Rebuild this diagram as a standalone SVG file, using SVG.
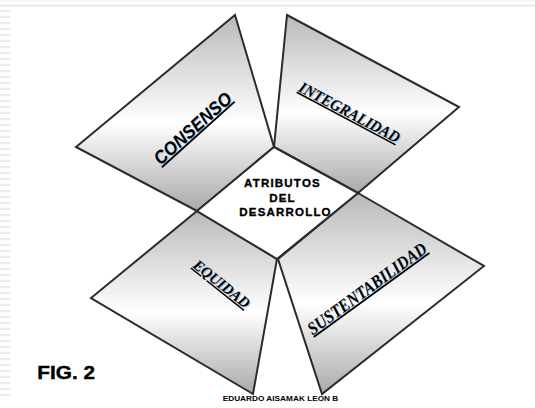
<svg xmlns="http://www.w3.org/2000/svg" width="535" height="408" viewBox="0 0 535 408">
  <style>
    .face { stroke: #2b2b2b; stroke-width: 2; stroke-linejoin: miter; fill: url(#shade); }
    .core { stroke: #2b2b2b; stroke-width: 2; fill: #ffffff; }
    .lbl { font-family: "Liberation Serif", "Times New Roman", serif; font-style: italic; font-weight: bold; fill: #000; text-decoration: underline; text-anchor: middle; }
    .lbl-sans { font-family: "Liberation Sans", Arial, sans-serif; }
    .sh { fill: #a9cbec; text-decoration: none; }
    .title { font-family: "Liberation Sans", Arial, sans-serif; font-weight: bold; fill: #000; stroke: #000; stroke-width: 0.35; text-anchor: middle; font-size: 11.5px; letter-spacing: 1.2px; }
  </style>
  <defs>
    <linearGradient id="shade" x1="0" y1="0" x2="0" y2="1">
      <stop offset="0" stop-color="#b9b9b9"/>
      <stop offset="0.55" stop-color="#ffffff"/>
      <stop offset="1" stop-color="#a9a9a9"/>
    </linearGradient>
    <pattern id="stripes" x="0" y="10" width="10" height="6" patternUnits="userSpaceOnUse">
      <rect x="0" y="0" width="10" height="2" fill="#ececec"/>
    </pattern>
  </defs>
  <rect width="535" height="408" fill="#ffffff"/>
  <rect x="0" y="0" width="535" height="2" fill="#f6f6f6"/>
  <rect x="0" y="4.5" width="535" height="2.5" fill="#eeeeee"/>
  <rect x="0" y="10" width="10" height="390" fill="url(#stripes)"/>

  <g id="consenso">
    <polygon class="face" points="235,15 274,147 197,211 76,147"/>
    <text class="lbl lbl-sans sh" font-size="18.5" textLength="98" lengthAdjust="spacingAndGlyphs" transform="translate(198,134) rotate(-42)">CONSENSO</text>
    <text class="lbl lbl-sans" font-size="18.5" textLength="98" lengthAdjust="spacingAndGlyphs" transform="translate(197,133) rotate(-42)">CONSENSO</text>
  </g>
  <g id="integralidad">
    <polygon class="face" points="287,15 459,107 358,193 274,147"/>
    <text class="lbl sh" font-size="16" textLength="112" lengthAdjust="spacingAndGlyphs" transform="translate(348,118) rotate(28)">INTEGRALIDAD</text>
    <text class="lbl" font-size="16" textLength="112" lengthAdjust="spacingAndGlyphs" transform="translate(347,117) rotate(28)">INTEGRALIDAD</text>
  </g>
  <g id="equidad">
    <polygon class="face" points="197,211 277,259 253,394 91,298"/>
    <text class="lbl sh" font-size="15" textLength="68" lengthAdjust="spacingAndGlyphs" transform="translate(219.5,288.8) rotate(38.5)">EQUIDAD</text>
    <text class="lbl" font-size="15" textLength="68" lengthAdjust="spacingAndGlyphs" transform="translate(218.5,287.8) rotate(38.5)">EQUIDAD</text>
  </g>
  <g id="sustentabilidad">
    <polygon class="face" points="358,193 484,266 322,394 278,259"/>
    <text class="lbl sh" font-size="18" textLength="143" lengthAdjust="spacingAndGlyphs" transform="translate(371.5,294.4) rotate(-36)">SUSTENTABILIDAD</text>
    <text class="lbl" font-size="18" textLength="143" lengthAdjust="spacingAndGlyphs" transform="translate(370.5,293.4) rotate(-36)">SUSTENTABILIDAD</text>
  </g>
  <g id="atributos">
    <polygon class="core" points="274,147 358,193 277,259 197,211"/>
    <text class="title" x="282.5" y="187">ATRIBUTOS</text>
    <text class="title" x="282.5" y="201.5">DEL</text>
    <text class="title" x="285.5" y="215.5">DESARROLLO</text>
  </g>
  <g id="captions">
    <text x="37.3" y="379.3" font-family="Liberation Sans, Arial, sans-serif" font-weight="bold" font-size="17.6" stroke="#000" stroke-width="0.4" textLength="57.7" lengthAdjust="spacingAndGlyphs" fill="#000">FIG. 2</text>
    <text x="222.7" y="400.7" font-family="Liberation Sans, Arial, sans-serif" font-weight="bold" font-size="8" textLength="115.6" lengthAdjust="spacingAndGlyphs" fill="#000">EDUARDO AISAMAK LEON B</text>
  </g>
</svg>
